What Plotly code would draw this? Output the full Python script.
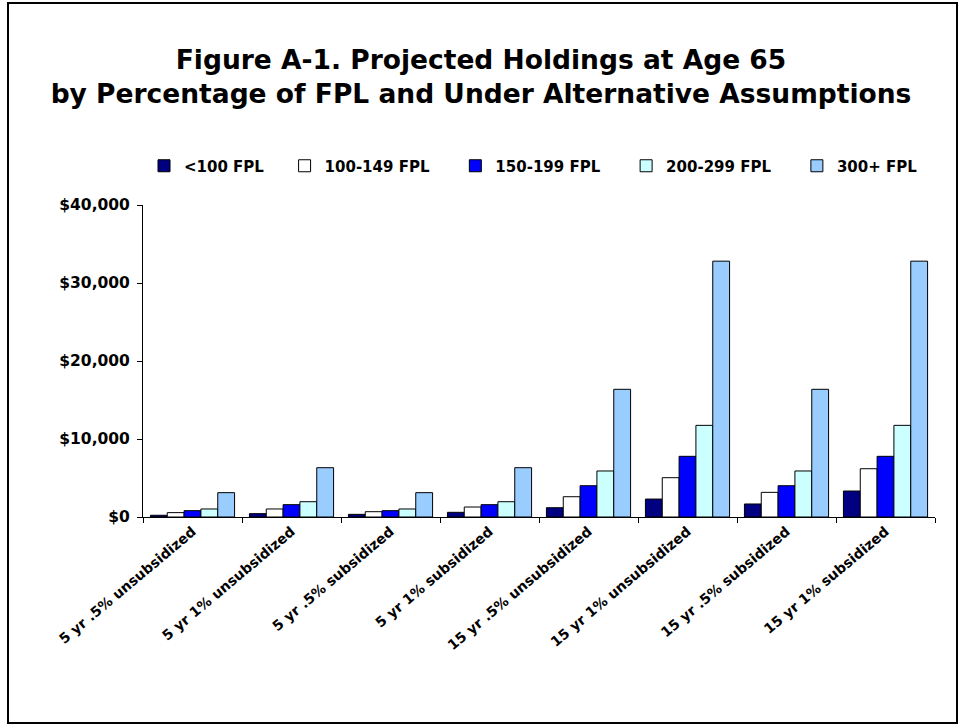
import plotly.graph_objects as go

categories = ["5 yr .5% unsubsidized", "5 yr 1% unsubsidized", "5 yr .5% subsidized",
              "5 yr 1% subsidized", "15 yr .5% unsubsidized", "15 yr 1% unsubsidized",
              "15 yr .5% subsidized", "15 yr 1% subsidized"]
series_names = ["<100 FPL", "100-149 FPL", "150-199 FPL", "200-299 FPL", "300+ FPL"]
lt100 = [220, 430, 340, 600, 1190, 2300, 1670, 3330]
fpl100_149 = [560, 1030, 680, 1280, 2600, 5040, 3160, 6190]
fpl150_199 = [810, 1580, 810, 1580, 4010, 7780, 4010, 7780]
fpl200_299 = [1030, 1960, 1030, 1960, 5900, 11750, 5900, 11750]
fpl300 = [3120, 6320, 3120, 6320, 16370, 32800, 16370, 32800]
y_ticks = [0, 10000, 20000, 30000, 40000]
y_tick_labels = ["$0", "$10,000", "$20,000", "$30,000", "$40,000"]

colors = ["#000080", "#FFFFFF", "#0000FF", "#CCFFFF", "#99CCFF"]
values = [lt100, fpl100_149, fpl150_199, fpl200_299, fpl300]
legend_pad = [3, 4, 4, 4, 0]

FONT = "DejaVu Sans, sans-serif"
W, H = 962, 725
ML, MR, MT, MB = 143, 27, 205, 208
PW, PH = W - ML - MR, H - MT - MB

fig = go.Figure()
for name, vals, c, p in zip(series_names, values, colors, legend_pad):
    fig.add_trace(go.Bar(x=categories, y=vals, name=name + "\u00a0" * p,
                         marker=dict(color=c, line=dict(color="black", width=1))))

def px_x(p):
    return (p - ML) / PW

def px_y(p):
    return (H - MB - p) / PH

fig.update_layout(
    width=W, height=H,
    margin=dict(l=ML, r=MR, t=MT, b=MB, autoexpand=False),
    paper_bgcolor="white", plot_bgcolor="white",
    barmode="group", bargap=0.15, bargroupgap=0,
    font=dict(family=FONT, color="black", size=13),
    title=dict(text="<b>Figure A-1. Projected Holdings at Age 65<br>by Percentage of FPL and Under Alternative Assumptions</b>",
               x=481 / W, xanchor="center", xref="container",
               y=1 - 69 / H, yanchor="top", yref="container",
               font=dict(size=26.5, family=FONT, color="black")),
    legend=dict(orientation="h", x=px_x(144), xanchor="left", y=px_y(166), yanchor="middle",
                font=dict(size=15, family=FONT, color="black", weight="bold"),
                bgcolor="rgba(0,0,0,0)", traceorder="normal"),
    xaxis=dict(type="category", showline=True, linecolor="black", linewidth=1,
               ticks="outside", ticklen=5, tickcolor="black", tickson="boundaries",
               tickangle=-40, tickfont=dict(size=14, family=FONT, color="black", weight="bold"),
               showgrid=False, automargin=False),
    yaxis=dict(range=[0, 40000], tickmode="array", tickvals=y_ticks, ticktext=y_tick_labels,
               showline=True, linecolor="black", linewidth=1, ticks="outside", ticklen=5,
               tickcolor="black", showgrid=False, zeroline=False, automargin=False,
               ticklabelstandoff=4,
               tickfont=dict(size=15.5, family=FONT, color="black", weight="bold")),
    shapes=[dict(type="rect", xref="paper", yref="paper",
                 x0=px_x(8), x1=px_x(957), y0=px_y(723), y1=px_y(3),
                 line=dict(color="black", width=2), fillcolor="rgba(0,0,0,0)", layer="below")],
)

fig.write_html("out.html", config={"displayModeBar": False},
               post_script="document.body.style.margin='0';")
